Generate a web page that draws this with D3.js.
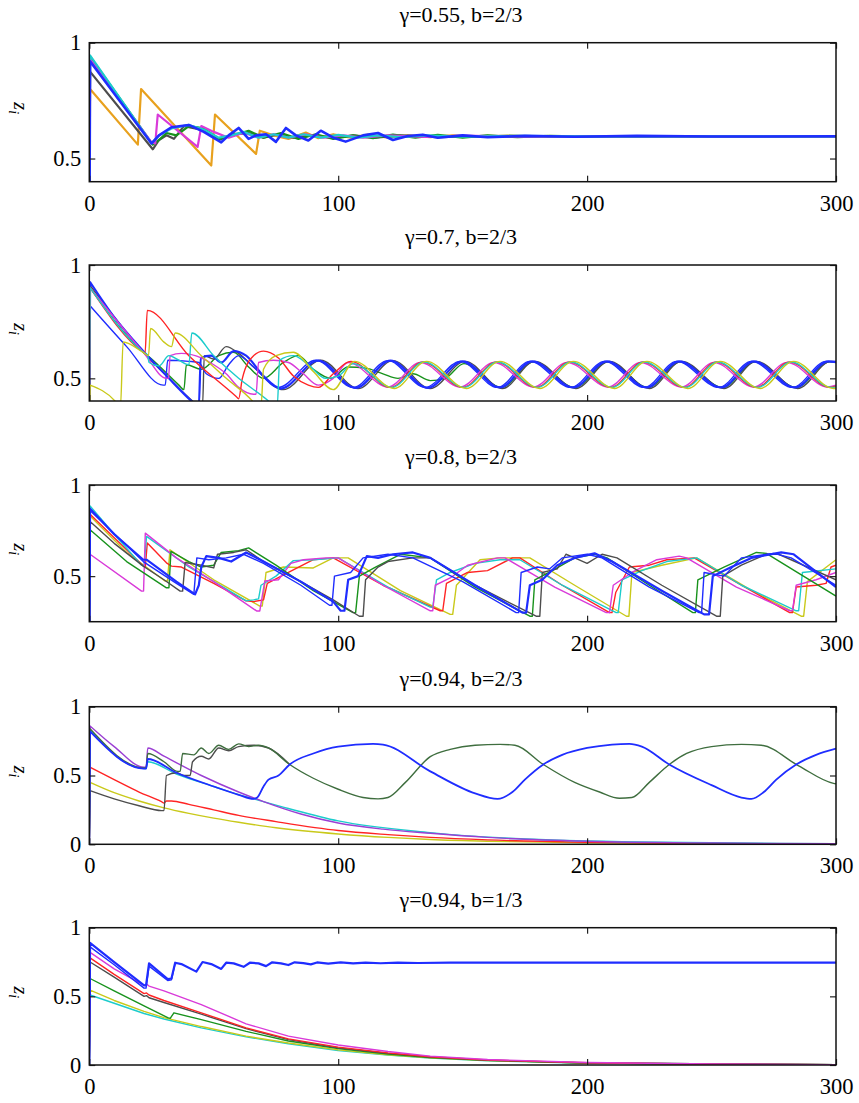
<!DOCTYPE html>
<html>
<head>
<meta charset="utf-8">
<script src="https://cdn.jsdelivr.net/npm/d3@7"></script>
<style>
  body { margin: 0; background: #fff; }
</style>
</head>
<body>
<svg id="chart" width="859" height="1103"></svg>
<script>
// ---- data: [t, z] pairs ----
const titles = ["γ=0.55, b=2/3", "γ=0.7, b=2/3", "γ=0.8, b=2/3", "γ=0.94, b=2/3", "γ=0.94, b=1/3"]
const xTicks = [0, 100, 200, 300]
const yDomains = [[0.4, 1], [0.4, 1], [0.25, 1], [0, 1], [0, 1]]
const yTicks = [[0.5, 1], [0.5, 1], [0.5, 1], [0, 0.5, 1], [0, 0.5, 1]]

// gamma = 0.55
const p1_orange = [[0,0],[0.3,0.80],[19.5,0.56],[20.8,0.80],[49,0.47],[50.5,0.69],[67,0.52],[68.5,0.62],[74,0.6],[80,0.585],[87,0.612],[92,0.588],[98,0.605],[105,0.59],[112,0.603],[120,0.59],[128,0.6],[137,0.592],[146,0.6],[156,0.593],[168,0.599],[182,0.594],[200,0.597],[230,0.596],[300,0.596]]
const p1_black = [[0,0],[0.3,0.875],[25.5,0.54],[28,0.58],[31,0.6],[34,0.585],[38,0.64],[45,0.625],[52,0.58],[58,0.605],[64,0.61],[70,0.59],[76,0.605],[82,0.59],[90,0.6],[98,0.588],[106,0.6],[115,0.59],[125,0.6],[140,0.592],[160,0.598],[200,0.595],[300,0.596]]
const p1_green = [[0,0],[0.3,0.94],[25.5,0.56],[28,0.58],[31,0.61],[35,0.6],[40,0.64],[46,0.63],[52,0.585],[58,0.6],[64,0.62],[70,0.59],[77,0.61],[84,0.585],[91,0.605],[98,0.585],[106,0.6],[114,0.588],[122,0.603],[131,0.59],[140,0.602],[150,0.59],[160,0.6],[172,0.592],[185,0.598],[200,0.595],[230,0.597],[300,0.596]]
const p1_magenta = [[0,0],[0.3,0.93],[25,0.57],[26.5,0.565],[27.5,0.69],[43.5,0.55],[45,0.64],[50,0.615],[56,0.59],[62,0.612],[68,0.59],[74,0.605],[80,0.59],[87,0.605],[94,0.59],[102,0.6],[110,0.59],[120,0.6],[135,0.593],[150,0.599],[175,0.594],[200,0.597],[300,0.596]]
const p1_cyan = [[0,0],[0.3,0.945],[25,0.565],[28,0.6],[33,0.63],[40,0.645],[46,0.625],[52,0.59],[57,0.6],[62,0.615],[68,0.59],[74,0.605],[80,0.59],[86,0.605],[93,0.59],[100,0.602],[108,0.59],[116,0.6],[125,0.592],[135,0.6],[150,0.594],[170,0.598],[200,0.596],[300,0.596]]
const p1_blue = [[0,0],[0.3,0.92],[25,0.565],[28,0.6],[33,0.635],[40,0.645],[46,0.615],[53,0.57],[56,0.6],[60,0.632],[64,0.585],[67,0.6],[71,0.605],[75,0.572],[79,0.632],[83,0.6],[88,0.578],[93,0.62],[98,0.59],[103,0.573],[110,0.6],[116,0.61],[122,0.58],[128,0.597],[134,0.603],[140,0.59],[150,0.6],[160,0.592],[175,0.598],[195,0.594],[220,0.598],[250,0.595],[300,0.596]]

// gamma = 0.7
const p2_yellow = [[0,0],[0.3,0.47],[10.3,0.4],[12.5,0.37],[13.6,0.66],[21.5,0.615],[23.8,0.6],[24.6,0.72],[30,0.66],[33,0.64],[34.5,0.70],[45,0.6],[55,0.5],[65.5,0.4],[67,0.38],[69,0.38],[70,0.54],[75,0.6],[82,0.615],[90,0.53],[98,0.45],[106.5,0.575],[122.5,0.455],[135.5,0.575],[151.5,0.455],[165,0.575],[181,0.455],[194.5,0.575],[211,0.455],[224,0.575],[240.5,0.455],[253.5,0.575],[269.5,0.455],[283,0.575],[299,0.455],[300,0.455]]
const p2_cyan = [[0,0],[0.3,0.9],[21.7,0.615],[23.5,0.6],[24,0.57],[28,0.555],[32,0.6],[36,0.58],[40,0.56],[41.2,0.7],[50,0.6],[60,0.5],[72,0.4],[74,0.38],[75.5,0.38],[76.5,0.58],[82,0.6],[88,0.56],[95,0.5],[100,0.51],[106,0.565],[121.5,0.46],[134.5,0.572],[150.5,0.46],[164,0.572],[180,0.46],[193.5,0.572],[210,0.46],[223,0.572],[239.5,0.46],[252.5,0.572],[268.5,0.46],[282,0.572],[298,0.46],[300,0.461]]
const p2_magenta = [[0,0],[0.3,0.9],[21.7,0.615],[31,0.5],[31.8,0.5],[32.5,0.6],[37,0.61],[45,0.59],[50,0.56],[55,0.52],[60,0.46],[66,0.43],[67,0.43],[68,0.57],[74,0.58],[80,0.57],[86,0.52],[92,0.47],[98,0.5],[104,0.57],[120,0.462],[133,0.57],[149,0.462],[162.6,0.57],[178.5,0.462],[192,0.57],[208.5,0.462],[221.5,0.57],[238,0.462],[251,0.57],[267,0.462],[280.4,0.57],[296.6,0.462],[300,0.47]]
const p2_red = [[0,0],[0.3,0.9],[21.7,0.615],[22.4,0.61],[23.3,0.80],[40,0.6],[59,0.42],[60,0.41],[61.5,0.5],[66,0.6],[70,0.62],[76,0.59],[82,0.51],[88,0.47],[92,0.46],[98,0.52],[105,0.575],[121,0.46],[134,0.572],[150,0.46],[163.6,0.572],[179.5,0.46],[193,0.572],[209.5,0.46],[222.5,0.572],[239,0.46],[252,0.572],[268,0.46],[281.4,0.572],[297.6,0.46],[300,0.465]]
const p2_green = [[0,0],[0.3,0.9],[21.7,0.615],[24,0.595],[36,0.47],[38,0.45],[39,0.56],[45,0.54],[52,0.6],[58,0.615],[64,0.55],[70,0.5],[78,0.57],[84,0.6],[90,0.54],[97,0.5],[104,0.55],[111,0.545],[118,0.52],[124,0.5],[130,0.52],[137,0.49],[143,0.5],[150.5,0.565],[165.5,0.46],[178.5,0.573],[195,0.46],[208.5,0.573],[224.5,0.46],[237.5,0.573],[254.5,0.46],[267.5,0.573],[284,0.46],[297.5,0.573],[300,0.57]]
const p2_black = [[0,0],[0.3,0.91],[21.7,0.615],[32,0.5],[41.5,0.4],[44,0.38],[45.5,0.38],[46.2,0.6],[50,0.585],[55,0.64],[60,0.61],[66,0.55],[78,0.45],[93,0.58],[108,0.455],[122,0.578],[137,0.455],[151,0.575],[166,0.455],[179,0.575],[195.5,0.455],[209,0.575],[225,0.455],[238,0.575],[255,0.455],[268,0.575],[284.6,0.455],[298,0.575],[300,0.573]]
const p2_blue2 = [[0,0],[0.3,0.82],[15,0.64],[29.7,0.47],[30.5,0.47],[31.5,0.58],[40,0.575],[44,0.57],[47,0.52],[52,0.5],[56,0.56],[60,0.6],[66,0.55],[76,0.46],[91,0.58],[106,0.46],[120,0.578],[135,0.46],[149,0.575],[164,0.46],[177,0.575],[193.5,0.46],[207,0.575],[223,0.46],[236,0.575],[253,0.46],[266,0.575],[282.6,0.46],[296,0.575],[300,0.57]]
const p2_blue = [[0,0],[0.3,0.925],[10,0.77],[21.7,0.62],[32,0.5],[41,0.4],[43,0.38],[44,0.38],[44.8,0.59],[49,0.6],[53,0.57],[58,0.62],[63,0.6],[70,0.51],[77,0.455],[92,0.578],[107,0.458],[121,0.578],[136,0.458],[150,0.575],[165,0.46],[178,0.575],[194.5,0.46],[208,0.575],[224,0.46],[237,0.575],[254,0.46],[267,0.575],[283.6,0.46],[297,0.575],[300,0.573]]

// gamma = 0.8
const p3_yellow = [[0,0],[0.3,0.83],[15,0.63],[30.4,0.473],[31.4,0.473],[32.4,0.645],[50,0.48],[68.5,0.336],[69.5,0.336],[71,0.52],[78,0.55],[90,0.545],[98,0.6],[104,0.6],[125,0.42],[145,0.29],[146,0.29],[147.5,0.45],[157,0.59],[165,0.6],[177,0.6],[195,0.45],[215.8,0.28],[216.8,0.28],[218,0.52],[230,0.56],[244,0.6],[265,0.43],[286,0.28],[287,0.28],[288.5,0.47],[300,0.59]]
const p3_red = [[0,0],[0.3,0.84],[21.7,0.555],[22.5,0.55],[23.3,0.682],[31,0.573],[33,0.555],[37,0.55],[50,0.46],[63,0.364],[66,0.36],[70,0.37],[71.5,0.46],[80,0.52],[90,0.59],[98,0.6],[118,0.45],[141,0.31],[142,0.31],[143.5,0.46],[152,0.52],[160,0.53],[170,0.6],[173,0.6],[190,0.45],[209,0.3],[210,0.3],[211.5,0.41],[217,0.55],[225,0.56],[232,0.59],[243,0.6],[262,0.45],[281.4,0.3],[282.5,0.3],[284,0.44],[292,0.45],[296,0.46],[298,0.55],[300,0.56]]
const p3_cyan = [[0,0],[0.3,0.885],[10,0.73],[21,0.56],[22,0.555],[23,0.718],[40,0.55],[55,0.43],[63,0.364],[66,0.37],[68,0.375],[69,0.45],[75,0.5],[82,0.585],[90,0.59],[100,0.6],[120,0.44],[137,0.33],[138,0.33],[139.5,0.48],[145,0.52],[155,0.57],[165,0.59],[173,0.59],[190,0.45],[211.7,0.3],[212.5,0.3],[214,0.48],[222,0.53],[232,0.58],[244,0.6],[262,0.45],[284,0.31],[285,0.31],[286.5,0.52],[300,0.54]]
const p3_magenta = [[0,0],[0.3,0.62],[21,0.418],[21.8,0.418],[22.5,0.736],[35,0.6],[50,0.47],[67.2,0.309],[68.5,0.309],[70.5,0.473],[76,0.48],[81,0.57],[86,0.59],[95,0.6],[100,0.6],[118,0.45],[137,0.31],[138,0.31],[139,0.45],[145,0.49],[152,0.56],[164,0.6],[167,0.6],[187,0.44],[207.7,0.3],[209,0.3],[210.5,0.45],[218,0.52],[228,0.59],[237,0.61],[240,0.6],[260,0.44],[281.4,0.31],[282.5,0.31],[284,0.45],[292,0.48],[300,0.52]]
const p3_green = [[0,0],[0.3,0.755],[15,0.58],[31,0.436],[32,0.436],[32.8,0.636],[40,0.58],[45,0.55],[50,0.56],[53,0.63],[60,0.64],[64,0.655],[75,0.56],[90,0.42],[106,0.3],[107,0.3],[108.5,0.5],[115,0.55],[125,0.62],[137,0.6],[155,0.44],[177,0.28],[178,0.28],[179,0.48],[186,0.53],[195,0.6],[203,0.62],[208,0.6],[225,0.45],[242.5,0.3],[243.5,0.3],[244.5,0.48],[255,0.55],[268,0.63],[272,0.625],[300,0.39]]
const p3_black = [[0,0],[0.3,0.8],[10,0.68],[21.7,0.555],[30,0.48],[36.5,0.418],[37.5,0.418],[38.5,0.575],[45,0.56],[50,0.545],[51.5,0.62],[58,0.63],[63,0.645],[70,0.58],[85,0.47],[98,0.37],[108.5,0.28],[110,0.28],[111,0.48],[116,0.55],[120,0.58],[130,0.6],[137,0.6],[155,0.45],[179.5,0.28],[181,0.28],[182,0.52],[188,0.54],[191.5,0.62],[195,0.6],[200,0.57],[206,0.62],[212,0.6],[230,0.45],[252,0.28],[253.5,0.28],[254.5,0.5],[262,0.56],[272,0.62],[277,0.62],[300,0.48]]
const p3_blue2 = [[0,0],[0.3,0.86],[21.7,0.58],[35,0.46],[42,0.4],[43.2,0.6],[48,0.59],[55,0.6],[62,0.62],[70,0.57],[85,0.45],[96.5,0.34],[97.5,0.34],[98.5,0.5],[105,0.52],[110,0.6],[120,0.62],[130,0.6],[150,0.47],[171.5,0.3],[172.5,0.3],[173.5,0.52],[180,0.55],[185,0.54],[190,0.6],[200,0.62],[206,0.6],[225,0.44],[245,0.3],[246,0.3],[247,0.52],[255,0.5],[262,0.6],[275,0.625],[282,0.6],[300,0.45]]
const p3_blue = [[0,0],[0.3,0.87],[10,0.73],[21.7,0.59],[23,0.59],[35,0.47],[42.5,0.4],[44,0.45],[45,0.55],[47,0.61],[52,0.6],[57,0.58],[63,0.63],[70,0.58],[85,0.47],[98,0.36],[101,0.31],[102.5,0.31],[104,0.48],[108,0.5],[111.5,0.61],[116,0.6],[122,0.62],[130,0.63],[137,0.6],[155,0.45],[174,0.3],[175.5,0.3],[177,0.45],[182,0.48],[188,0.56],[195,0.6],[203,0.625],[210,0.58],[230,0.42],[247,0.29],[249,0.29],[250.5,0.5],[258,0.55],[266,0.6],[278,0.63],[283,0.62],[300,0.44]]

// gamma = 0.94, b = 2/3
const p4_yellow = [[0,0],[0.3,0.45],[10,0.375],[20,0.315],[30,0.265],[40,0.225],[50,0.19],[60,0.16],[75,0.12],[100,0.075],[120,0.05],[137,0.035],[160,0.022],[200,0.01],[300,0.002]]
const p4_red = [[0,0],[0.3,0.56],[10,0.47],[20,0.38],[29,0.31],[30,0.3],[31,0.315],[33,0.315],[40,0.29],[50,0.25],[60,0.21],[75,0.165],[100,0.1],[120,0.07],[137,0.05],[160,0.032],[200,0.015],[250,0.006],[300,0.003]]
const p4_cyan = [[0,0],[0.3,0.83],[22,0.55],[22.8,0.55],[23.5,0.6],[35,0.51],[50,0.42],[62,0.35],[66,0.33],[80,0.26],[100,0.17],[137,0.085],[200,0.024],[300,0.004]]
const p4_purple = [[0,0],[0.3,0.86],[10,0.71],[22,0.56],[22.8,0.56],[23.5,0.70],[30,0.64],[45,0.5],[60,0.38],[70,0.31],[85,0.22],[100,0.155],[118,0.11],[137,0.08],[160,0.05],[200,0.022],[250,0.009],[300,0.004]]
const p4_black = [[0,0],[0.3,0.39],[10,0.33],[20,0.28],[29,0.245],[30,0.245],[31,0.5],[35,0.52],[38,0.5],[40.5,0.5],[41.5,0.6],[45,0.64],[48,0.62],[52,0.7],[56,0.68],[60,0.71],[66,0.72],[72,0.7],[80.5,0.58]]
const p4_green = [[0,0],[0.3,0.84],[22,0.555],[22.8,0.555],[23.5,0.66],[30,0.6],[35.5,0.53],[36.5,0.53],[37.5,0.66],[42,0.65],[45,0.7],[48,0.66],[52,0.72],[56,0.69],[60,0.73],[64,0.71],[68,0.72],[72,0.7],[80.5,0.58],[90,0.48],[100,0.4],[110,0.34],[116,0.33],[120,0.34],[127,0.45],[137,0.637],[145,0.69],[155,0.72],[165,0.726],[171,0.72],[182.4,0.58],[195,0.45],[205,0.38],[213,0.335],[218,0.34],[225,0.45],[233,0.58],[240,0.66],[250,0.71],[262,0.726],[270,0.72],[285,0.57],[299,0.443],[300,0.44]]
const p4_blue = [[0,0],[0.3,0.82],[22,0.55],[22.8,0.55],[23.5,0.62],[35,0.52],[50,0.42],[60,0.36],[66,0.33],[67.5,0.34],[70,0.42],[72,0.47],[76,0.5],[80.5,0.58],[90,0.66],[100,0.71],[114,0.73],[118,0.725],[137,0.53],[155,0.37],[164,0.33],[170,0.38],[175,0.47],[182.4,0.58],[190,0.65],[200,0.7],[210,0.725],[217,0.73],[222,0.71],[233,0.58],[250,0.43],[262,0.34],[266,0.33],[271,0.38],[276,0.47],[284,0.58],[292,0.65],[300,0.695]]

// gamma = 0.94, b = 1/3
const p5_cyan = [[0,0],[0.3,0.51],[10,0.45],[22,0.375],[30,0.335],[45,0.27],[63,0.205],[80,0.155],[100,0.105],[120,0.072],[137,0.05],[160,0.03],[200,0.013],[300,0.002]]
const p5_yellow = [[0,0],[0.3,0.545],[10,0.47],[22,0.39],[30,0.345],[45,0.28],[63,0.21],[80,0.16],[100,0.11],[120,0.075],[137,0.052],[160,0.032],[200,0.014],[300,0.002]]
const p5_green = [[0,0],[0.3,0.63],[10,0.54],[22,0.43],[31.5,0.345],[32.5,0.34],[34,0.38],[45,0.33],[63,0.245],[80,0.175],[100,0.12],[120,0.08],[137,0.055],[160,0.034],[200,0.015],[300,0.002]]
const p5_black = [[0,0],[0.3,0.75],[10,0.64],[22,0.5],[23,0.505],[24,0.49],[30,0.455],[45,0.37],[63,0.265],[80,0.185],[100,0.125],[120,0.085],[137,0.058],[160,0.035],[200,0.015],[300,0.002]]
const p5_red = [[0,0],[0.3,0.78],[10,0.66],[22,0.52],[23,0.525],[24,0.51],[30,0.47],[45,0.38],[63,0.27],[80,0.19],[100,0.13],[120,0.088],[137,0.06],[160,0.036],[200,0.016],[250,0.006],[300,0.002]]
const p5_magenta = [[0,0],[0.3,0.82],[10,0.7],[22,0.58],[23,0.59],[24,0.575],[30,0.54],[45,0.44],[63,0.3],[80,0.21],[100,0.146],[120,0.098],[137,0.065],[160,0.04],[200,0.018],[250,0.007],[300,0.003]]
const p5_blue2 = [[0,0],[0.3,0.86],[10,0.73],[22,0.56],[22.8,0.56],[24,0.72],[31.5,0.615],[33,0.62],[34.5,0.74]]
const p5_blue = [[0,0],[0.3,0.89],[10,0.75],[22,0.58],[22.8,0.58],[24,0.74],[31.5,0.625],[33,0.63],[34.5,0.745],[37,0.735],[43,0.68],[45.5,0.75],[49,0.735],[53,0.7],[55,0.745],[58,0.74],[62,0.715],[64.5,0.745],[68,0.74],[71,0.72],[73.5,0.748],[77,0.74],[80,0.728],[82.5,0.748],[86,0.742],[89,0.733],[91.5,0.747],[96,0.738],[101,0.747],[106,0.74],[111,0.746],[117,0.741],[124,0.745],[132,0.743],[145,0.745],[300,0.745]]

const panelSeries = [
  [p1_orange, p1_black, p1_green, p1_magenta, p1_cyan, p1_blue],
  [p2_green, p2_black, p2_blue2, p2_blue, p2_magenta, p2_red, p2_cyan, p2_yellow],
  [p3_yellow, p3_red, p3_cyan, p3_magenta, p3_green, p3_black, p3_blue2, p3_blue],
  [p4_yellow, p4_red, p4_cyan, p4_purple, p4_black, p4_green, p4_blue],
  [p5_cyan, p5_yellow, p5_green, p5_black, p5_red, p5_magenta, p5_blue2, p5_blue]
]
const panelColors = [
  ["orange", "black", "green", "magenta", "cyan", "blue"],
  ["green", "black", "blue", "blue", "magenta", "red", "cyan", "yellow"],
  ["yellow", "red", "cyan", "magenta", "green", "black", "blue", "blue"],
  ["yellow", "red", "cyan", "purple", "black", "darkgreen", "blue"],
  ["cyan", "yellow", "green", "black", "red", "magenta", "blue", "blue"]
]

// ---- drawing ----
const serif = "Liberation Serif"
const palette = {
  blue: "#1f2dff", red: "#ff2424", green: "#18921c", cyan: "#1ccccc", magenta: "#d93ad9",
  yellow: "#c9c91a", black: "#4d4d4d", orange: "#e8a11e", purple: "#9b3fd4", darkgreen: "#3f6e3f"
}
const widths = [2.2, 1.4, 1.4, 1.4, 1.4]
const blueWidths = [2.6, 2.2, 2.2, 1.8, 2.2]
const curves = [d3.curveLinear, d3.curveMonotoneX, d3.curveLinear, d3.curveMonotoneX, d3.curveLinear]
const svg = d3.select("#chart")
const plotLeft = 89.3, plotRight = 836
const panelTop = [42.7, 265, 485, 706.7, 927.7]
const panelBottom = [181.7, 401, 621.7, 844.3, 1065]

const x = d3.scaleLinear().domain([0, 300]).range([plotLeft, plotRight])

function drawPanel(k) {
  const top = panelTop[k], bottom = panelBottom[k]
  const y = d3.scaleLinear().domain(yDomains[k]).range([bottom, top])
  const g = svg.append("g")

  g.append("clipPath").attr("id", "clip" + k)
    .append("rect")
    .attr("x", plotLeft).attr("y", top)
    .attr("width", plotRight - plotLeft).attr("height", bottom - top)

  const straight = d3.line().x(d => x(d[0])).y(d => y(d[1]))
  const line = d3.line().x(d => x(d[0])).y(d => y(d[1])).curve(curves[k])

  const lines = g.append("g").attr("clip-path", "url(#clip" + k + ")")
  const n = panelSeries[k].length
  panelSeries[k].forEach((s, i) => {
    const c = panelColors[k][i]
    // the last blue series of a panel is the thick one
    const w = (c == "blue" && i == panelColors[k].lastIndexOf("blue")) ? blueWidths[k] : widths[k]
    // the jump from zero at t=0 is straight, the rest uses the panel's curve
    const d = straight(s.slice(0, 2)) + line(s.slice(1)).replace(/^M/, "L")
    lines.append("path")
      .attr("d", d)
      .attr("fill", "none")
      .attr("stroke", palette[c])
      .attr("stroke-width", w)
      .attr("stroke-linejoin", "round")
  })

  // axes with inward ticks
  const fmt = d => String(d)
  g.append("g").attr("transform", "translate(0," + bottom + ")")
    .call(d3.axisBottom(x).tickValues(xTicks).tickSize(-6).tickPadding(13).tickFormat(fmt))
  g.append("g").attr("transform", "translate(0," + top + ")")
    .call(d3.axisTop(x).tickValues(xTicks).tickSize(-6).tickFormat(""))
  g.append("g").attr("transform", "translate(" + plotLeft + ",0)")
    .call(d3.axisLeft(y).tickValues(yTicks[k]).tickSize(-6).tickPadding(8).tickFormat(fmt))
  g.append("g").attr("transform", "translate(" + plotRight + ",0)")
    .call(d3.axisRight(y).tickValues(yTicks[k]).tickSize(-6).tickFormat(""))
  g.selectAll(".domain").remove()
  g.selectAll(".tick line").attr("stroke", "#222").attr("stroke-width", 1.2)
  g.selectAll(".tick text")
    .style("font-family", serif)
    .style("font-size", "22.5px")
    .attr("fill", "#000")

  g.append("rect")
    .attr("x", plotLeft).attr("y", top)
    .attr("width", plotRight - plotLeft).attr("height", bottom - top)
    .attr("fill", "none").attr("stroke", "#111").attr("stroke-width", 1.5)

  g.append("text")
    .attr("x", 461).attr("y", top - 21)
    .attr("text-anchor", "middle")
    .style("font-family", serif)
    .style("font-size", "22px")
    .attr("fill", "#000")
    .text(titles[k])

  const lab = g.append("text")
    .attr("transform", "translate(14," + ((top + bottom) / 2 - 4) + ") rotate(90)")
    .attr("text-anchor", "middle")
    .style("font-family", serif)
    .style("font-size", "20px")
    .style("font-style", "italic")
    .attr("fill", "#000")
  lab.append("tspan").text("z")
  lab.append("tspan").style("font-size", "14px").attr("dy", 5).text("i")
}

for (let k = 0; k < titles.length; k++) drawPanel(k)
</script>
</body>
</html>
